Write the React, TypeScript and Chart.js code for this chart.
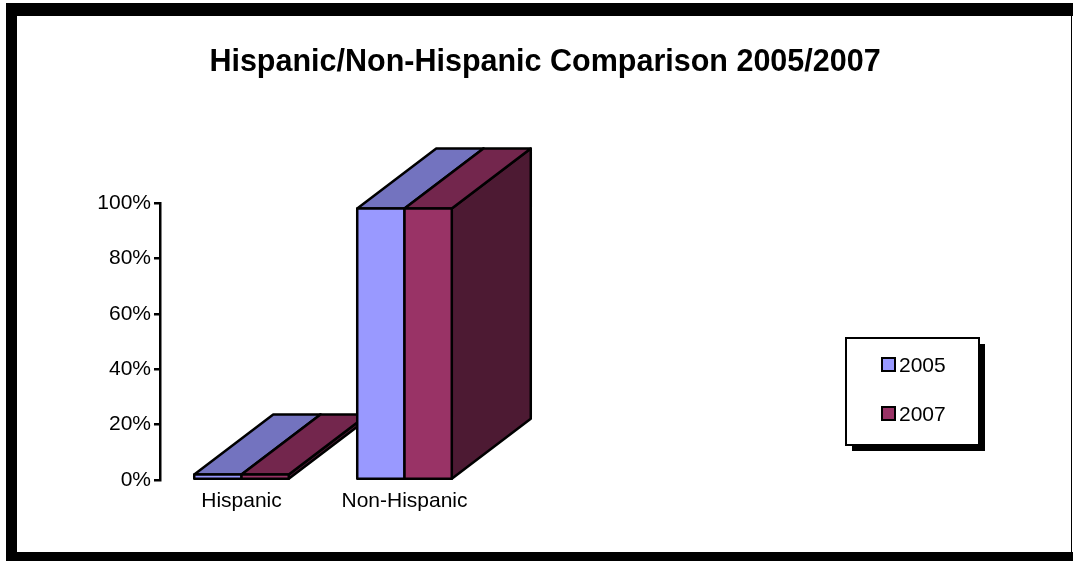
import React, { useEffect, useRef } from "react";
import { Chart, registerables } from "chart.js";

Chart.register(...registerables);

const CATEGORIES = ["Hispanic", "Non-Hispanic"];
const SERIES_LABELS = ["2005", "2007"];
const VALUES_2005 = [2, 98];
const VALUES_2007 = [2, 98];
const Y_TICK_MIN = 0;
const Y_TICK_MAX = 100;
const Y_TICK_STEP = 20;
const TITLE = "Hispanic/Non-Hispanic Comparison 2005/2007";

const COLORS = ["#9999FF", "#993366"];
const FONT = "'Liberation Sans', Arial, sans-serif";
const DEPTH_X = 79;
const DEPTH_Y = -60;

function shade(hex: string, f: number) {
  const n = parseInt(hex.slice(1), 16);
  const r = Math.round(((n >> 16) & 255) * f);
  const g = Math.round(((n >> 8) & 255) * f);
  const b = Math.round((n & 255) * f);
  return `rgb(${r},${g},${b})`;
}

const framePlugin = {
  id: "frame",
  beforeDraw(chart: any) {
    const ctx = chart.ctx;
    ctx.save();
    ctx.fillStyle = "#ffffff";
    ctx.fillRect(0, 0, chart.width, chart.height);
    ctx.fillStyle = "#000000";
    ctx.fillRect(6, 3, 1067, 13);
    ctx.fillRect(6, 3, 11, 558);
    ctx.fillRect(6, 552, 1067, 9);
    ctx.fillRect(1071, 16, 1, 536);
    // title
    ctx.font = `bold 30.5px ${FONT}`;
    ctx.textAlign = "center";
    ctx.textBaseline = "middle";
    ctx.fillText(TITLE, 545, 63);
    ctx.restore();
  },
};

const bars3dPlugin = {
  id: "bars3d",
  afterDatasetsDraw(chart: any) {
    const ctx = chart.ctx;
    ctx.save();
    ctx.lineWidth = 2.5;
    ctx.strokeStyle = "#000";
    ctx.lineJoin = "round";
    const nCat = chart.data.labels.length;
    for (let i = 0; i < nCat; i++) {
      chart.data.datasets.forEach((ds: any, d: number) => {
        const meta = chart.getDatasetMeta(d);
        const el = meta.data[i];
        if (!el) return;
        const p = el.getProps(["x", "y", "base", "width"], true);
        const left = p.x - p.width / 2;
        const right = p.x + p.width / 2;
        const top = p.y;
        const bottom = p.base;
        const base = ds.backgroundColor as string;
        // side
        ctx.beginPath();
        ctx.moveTo(right, top);
        ctx.lineTo(right + DEPTH_X, top + DEPTH_Y);
        ctx.lineTo(right + DEPTH_X, bottom + DEPTH_Y);
        ctx.lineTo(right, bottom);
        ctx.closePath();
        ctx.fillStyle = shade(base, 0.5);
        ctx.fill();
        ctx.stroke();
        // top
        ctx.beginPath();
        ctx.moveTo(left, top);
        ctx.lineTo(left + DEPTH_X, top + DEPTH_Y);
        ctx.lineTo(right + DEPTH_X, top + DEPTH_Y);
        ctx.lineTo(right, top);
        ctx.closePath();
        ctx.fillStyle = shade(base, 0.75);
        ctx.fill();
        ctx.stroke();
        // front
        ctx.beginPath();
        ctx.rect(left, top, right - left, bottom - top);
        ctx.fillStyle = base;
        ctx.fill();
        ctx.stroke();
      });
    }
    ctx.restore();
  },
};

const legendPlugin = {
  id: "boxLegend",
  afterDraw(chart: any) {
    const ctx = chart.ctx;
    ctx.save();
    const x = 846, y = 338, w = 133, h = 107;
    ctx.fillStyle = "#000";
    ctx.fillRect(x + 6, y + 6, w, h);
    ctx.fillStyle = "#fff";
    ctx.fillRect(x, y, w, h);
    ctx.lineWidth = 2;
    ctx.strokeStyle = "#000";
    ctx.strokeRect(x, y, w, h);
    ctx.font = `21px ${FONT}`;
    ctx.textAlign = "left";
    ctx.textBaseline = "middle";
    chart.data.datasets.forEach((ds: any, i: number) => {
      const cy = 365 + i * 49;
      ctx.fillStyle = ds.backgroundColor;
      ctx.fillRect(882, cy - 7, 13, 13);
      ctx.lineWidth = 2;
      ctx.strokeRect(882, cy - 7, 13, 13);
      ctx.fillStyle = "#000";
      ctx.fillText(ds.label, 899, cy + 1);
    });
    ctx.restore();
  },
};

export default function App() {
  const ref = useRef<HTMLCanvasElement>(null);
  useEffect(() => {
    if (!ref.current) return;
    const chart = new Chart(ref.current, {
      type: "bar",
      data: {
        labels: CATEGORIES,
        datasets: [
          {
            label: SERIES_LABELS[0],
            data: VALUES_2005,
            backgroundColor: COLORS[0],
            borderColor: "#000",
            borderWidth: 2,
            categoryPercentage: 0.58,
            barPercentage: 1.0,
          },
          {
            label: SERIES_LABELS[1],
            data: VALUES_2007,
            backgroundColor: COLORS[1],
            borderColor: "#000",
            borderWidth: 2,
            categoryPercentage: 0.58,
            barPercentage: 1.0,
          },
        ],
      },
      options: {
        responsive: false,
        devicePixelRatio: 1,
        animation: false,
        layout: { padding: { left: 0, top: 203, right: 587, bottom: 0 } },
        plugins: {
          legend: { display: false },
          title: { display: false },
          tooltip: { enabled: false },
        },
        scales: {
          x: {
            grid: { display: false, drawTicks: false },
            border: { display: false },
            ticks: {
              color: "#000",
              font: { family: FONT, size: 21 },
              padding: 9,
              maxRotation: 0,
            },
            afterFit: (s: any) => {
              s.height = 81;
            },
          },
          y: {
            min: Y_TICK_MIN,
            max: Y_TICK_MAX,
            grid: {
              drawOnChartArea: false,
              drawTicks: true,
              tickLength: 6,
              color: "#000",
              lineWidth: 2.5,
            },
            border: { display: true, color: "#000", width: 2.5 },
            ticks: {
              stepSize: Y_TICK_STEP,
              color: "#000",
              font: { family: FONT, size: 21 },
              padding: 3,
              callback: (v: any) => `${v}%`,
            },
            afterFit: (s: any) => {
              s.width = 160;
            },
          },
        },
      },
      plugins: [framePlugin, bars3dPlugin, legendPlugin],
    });
    return () => chart.destroy();
  }, []);
  return (
    <div style={{ position: "fixed", left: 0, top: 0, width: 1073, height: 561, background: "#fff" }}>
      <canvas ref={ref} width={1073} height={561} style={{ display: "block", width: 1073, height: 561 }} />
    </div>
  );
}
